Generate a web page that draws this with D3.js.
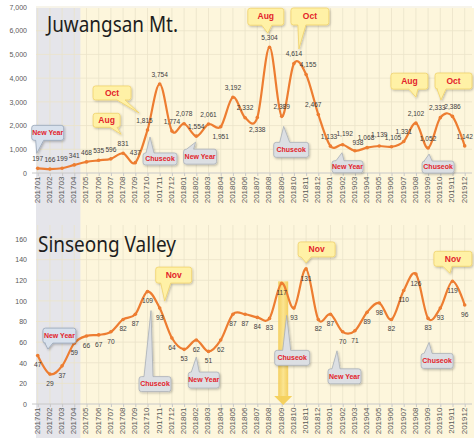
<!DOCTYPE html>
<html>
<head>
<meta charset="utf-8">
<script src="https://cdn.jsdelivr.net/npm/d3@7"></script>
<style>
  body { margin: 0; background: #fff; }
  svg { display: block; }
</style>
</head>
<body>
<svg id="chart" width="474" height="438"></svg>
<script>
// Monthly visitors, Jan 2017 – Dec 2019
const months = [
  "201701","201702","201703","201704","201705","201706","201707","201708","201709","201710","201711","201712",
  "201801","201802","201803","201804","201805","201806","201807","201808","201809","201810","201811","201812",
  "201901","201902","201903","201904","201905","201906","201907","201908","201909","201910","201911","201912"
];
const juwangsanVisitors = [
  197, 166, 199, 341, 468, 535, 596, 831, 437, 1815, 3754, 1774,
  2078, 1554, 2061, 1951, 3192, 2332, 2338, 5304, 2389, 4614, 4155, 2467,
  1133, 1192, 938, 1068, 1139, 1105, 1331, 2102, 1052, 2333, 2386, 1142
];
const sinseongVisitors = [
  47, 29, 37, 59, 66, 67, 70, 82, 87, 109, 93, 64,
  53, 62, 51, 62, 87, 87, 84, 83, 117, 93, 131, 82,
  87, 70, 71, 89, 98, 82, 110, 126, 83, 93, 119, 96
];
const juwangsanTicks = [0, 1000, 2000, 3000, 4000, 5000, 6000, 7000];
const sinseongTicks = [0, 20, 40, 60, 80, 100, 120, 140, 160];

// Event call-outs: text, month pointed at, box kind
const juwangsanNotes = [
  { text: "New Year", month: "201701", kind: "blue" },
  { text: "Aug", month: "201708", kind: "yellow" },
  { text: "Oct", month: "201710", kind: "yellow" },
  { text: "Chuseok", month: "201710", kind: "grey" },
  { text: "New Year", month: "201802", kind: "grey" },
  { text: "Aug", month: "201808", kind: "yellow" },
  { text: "Oct", month: "201810", kind: "yellow" },
  { text: "Chuseok", month: "201809", kind: "grey" },
  { text: "New Year", month: "201902", kind: "grey" },
  { text: "Aug", month: "201908", kind: "yellow" },
  { text: "Oct", month: "201910", kind: "yellow" },
  { text: "Chuseok", month: "201909", kind: "grey" }
];
const sinseongNotes = [
  { text: "New Year", month: "201702", kind: "blue" },
  { text: "Nov", month: "201711", kind: "yellow" },
  { text: "Chuseok", month: "201710", kind: "grey" },
  { text: "New Year", month: "201802", kind: "grey" },
  { text: "Nov", month: "201811", kind: "yellow" },
  { text: "Chuseok", month: "201809", kind: "grey" },
  { text: "New Year", month: "201902", kind: "grey" },
  { text: "Chuseok", month: "201909", kind: "grey" },
  { text: "Nov", month: "201911", kind: "yellow" }
];
const highlightMonth = "201809";

// ---- layout of call-outs (pixel offsets from the pointed data point) ----
// tip: [dx, dy] from the point; box: [dx, dy, w, h] from the tip; side of tail; tail base [l, r] from tip x
const juwangsanNoteLayout = [
  { tip: [-1, -15], box: [-5, -28, 32, 15], side: "bottom", base: [-1, 7] },
  { tip: [-2, -19], box: [-28, -21, 27, 14], side: "bottom", base: [-11, -4] },
  { tip: [-8.5, -17], box: [-46, -27, 38, 14], side: "bottom", base: [-22, -14] },
  { tip: [2.5, 7], box: [-7, 16, 34, 12], side: "top", base: [-4, 4] },
  { tip: [-0.7, 6], box: [-12, 7, 33, 15], side: "top", base: [-9, -2] },
  { tip: [-1.7, -14], box: [-20, -25, 36, 17], side: "bottom", base: [-6, 4] },
  { tip: [5, -14.6], box: [-8, -41, 38, 17], side: "bottom", base: [-1, 7] },
  { tip: [2, 10], box: [-10, 16, 35, 15], side: "top", base: [-4, 6] },
  { tip: [-0.7, 8], box: [-10, 8, 31, 12], side: "top", base: [-6, 2] },
  { tip: [0, -26], box: [-25, -24, 37, 16], side: "bottom", base: [-7, 2] },
  { tip: [0.7, -17.7], box: [-6, -27, 37, 16], side: "bottom", base: [-4, 5] },
  { tip: [1, 6], box: [-7, 7, 32, 12], side: "top", base: [-5, 3] }
];
const sinseongNoteLayout = [
  { tip: [-2, -25], box: [-5, -21, 33, 15], side: "bottom", base: [-3, 5] },
  { tip: [5, -7], box: [-9, -34, 36, 16], side: "bottom", base: [-4, 6] },
  { tip: [3.5, 19], box: [-12, 66, 32, 15], side: "top", base: [-7, 2] },
  { tip: [0, 17], box: [-8, 15, 31, 16], side: "top", base: [-5, 3] },
  { tip: [0, -6], box: [-8, -21, 37, 15], side: "bottom", base: [-5, 5] },
  { tip: [5, 32], box: [-12, 35, 35, 15], side: "top", base: [-4, 4] },
  { tip: [-5.7, 19], box: [-9, 18, 33, 15], side: "top", base: [-5, 3] },
  { tip: [1, 24], box: [-8, 11, 32, 15], side: "top", base: [-5, 3] },
  { tip: [-2.6, -8], box: [-16, -22, 38, 15], side: "bottom", base: [-7, 2] }
];
// value-label offsets [dx, dy] that differ from the default
const juwangsanLabelShift = { "201710": [-3, 0], "201804": [0, 20], "201807": [0, 22],
  "201811": [2, 0], "201812": [-5, 0], "201901": [-1.5, 0], "201902": [2, -1], "201903": [3, 1],
  "201904": [-1, 0], "201905": [0, -2], "201906": [1.5, 0], "201910": [-3, 0] };

const svg = d3.select("#chart");
const COLORS = {
  line: "#ed7d31",
  cream: "#fdf6dc",
  band: "#e5e5ea",
  grid: "#ebe3c9",
  axis: "#c8c8c8",
  tick: "#595959",
  value: "#404040"
};
const NOTE_STYLE = {
  yellow: { fill: "#fff1a6", stroke: "#f0d26a", size: 8.5 },
  grey:   { fill: "#dcdfe3", stroke: "#aab0b8", size: 7 },
  blue:   { fill: "#d8e1ed", stroke: "#97a5b8", size: 7 }
};

const defs = svg.append("defs");
defs.append("filter").attr("id", "shadow").attr("x", "-20%").attr("y", "-20%")
  .attr("width", "150%").attr("height", "160%")
  .append("feDropShadow").attr("dx", 1).attr("dy", 1.2).attr("stdDeviation", 0.8)
  .attr("flood-color", "#000").attr("flood-opacity", 0.25);
const grad = defs.append("linearGradient").attr("id", "beam").attr("x1", 0).attr("x2", 1).attr("y1", 0).attr("y2", 0);
grad.append("stop").attr("offset", "0%").attr("stop-color", "#f2c94c").attr("stop-opacity", 0.85);
grad.append("stop").attr("offset", "50%").attr("stop-color", "#fbe38a").attr("stop-opacity", 0.9);
grad.append("stop").attr("offset", "100%").attr("stop-color", "#f2c94c").attr("stop-opacity", 0.85);

const x = d3.scalePoint().domain(months).range([37.7, 464.7]).padding(0);
const plotLeft = 36, plotRight = 474;

// Page background: cream plot area with a grey band over Jan–Apr 2017
svg.append("rect").attr("x", plotLeft).attr("y", 8).attr("width", plotRight - plotLeft)
  .attr("height", 430).attr("fill", COLORS.cream);
svg.append("rect").attr("x", plotLeft).attr("y", 8)
  .attr("width", (x("201704") + x("201705")) / 2 - plotLeft)
  .attr("height", 430).attr("fill", COLORS.band);

function calloutPath(x0, y0, w, h, side, b1, b2, tx, ty) {
  const r = 2.5, x1 = x0 + w, y1 = y0 + h;
  let p = `M${x0 + r},${y0}`;
  if (side === "top") p += `L${b1},${y0}L${tx},${ty}L${b2},${y0}`;
  p += `L${x1 - r},${y0}Q${x1},${y0} ${x1},${y0 + r}L${x1},${y1 - r}Q${x1},${y1} ${x1 - r},${y1}`;
  if (side === "bottom") p += `L${b2},${y1}L${tx},${ty}L${b1},${y1}`;
  p += `L${x0 + r},${y1}Q${x0},${y1} ${x0},${y1 - r}L${x0},${y0 + r}Q${x0},${y0} ${x0 + r},${y0}Z`;
  return p;
}

function drawPanel(cfg) {
  const g = svg.append("g");
  const y = d3.scaleLinear().domain([0, cfg.ticks[cfg.ticks.length - 1]]).range([cfg.y0, cfg.y1]);

  // horizontal grid
  g.selectAll("line.hgrid").data(cfg.ticks.filter(t => t > 0)).join("line")
    .attr("x1", plotLeft).attr("x2", plotRight - 2)
    .attr("y1", d => y(d)).attr("y2", d => y(d))
    .attr("stroke", COLORS.grid).attr("stroke-width", 0.8);
  // vertical grid per month
  g.selectAll("line.vgrid").data(months).join("line")
    .attr("x1", d => x(d)).attr("x2", d => x(d))
    .attr("y1", cfg.gridTop).attr("y2", y(0))
    .attr("stroke", COLORS.grid).attr("stroke-width", 0.8);

  // y axis labels
  const yAxis = d3.axisLeft(y).tickValues(cfg.ticks).tickSize(0).tickPadding(0)
    .tickFormat(d3.format(","));
  const ya = g.append("g").attr("transform", "translate(27,0)").call(yAxis);
  ya.select(".domain").remove();
  ya.selectAll("text").attr("font-family", "Liberation Sans, Arial, sans-serif")
    .attr("font-size", 7).attr("fill", COLORS.tick);

  // x axis
  const xAxis = d3.axisBottom(x).tickSize(3).tickPadding(2);
  const xa = g.append("g").attr("transform", `translate(0,${y(0)})`).call(xAxis);
  xa.select(".domain").attr("d", `M${plotLeft - 4},0H${plotRight - 2}`).attr("stroke", COLORS.axis);
  xa.selectAll(".tick line").attr("stroke", COLORS.axis);
  xa.selectAll("text")
    .attr("font-family", "Liberation Sans, Arial, sans-serif").attr("font-size", 8)
    .attr("fill", COLORS.tick)
    .attr("transform", "rotate(-90)")
    .attr("text-anchor", "end").attr("dx", "-0.45em").attr("dy", "-0.1em")
    .attr("x", 0).attr("y", 0)
    .attr("dominant-baseline", "middle");

  // title
  g.append("text").attr("x", cfg.titleX).attr("y", cfg.titleY).text(cfg.title)
    .attr("font-family", "Noto Sans, sans-serif").attr("font-size", 21)
    .attr("textLength", cfg.titleWidth).attr("lengthAdjust", "spacingAndGlyphs")
    .attr("fill", "#1e1e1e");

  // highlighted month beam
  if (cfg.beam) {
    const i = months.indexOf(cfg.beam);
    const bx = x(cfg.beam) + 1.5, byTop = y(cfg.values[i]) - 2, byBot = y(0);
    g.append("rect").attr("x", bx - 5).attr("y", byTop).attr("width", 10)
      .attr("height", byBot - 8 - byTop).attr("fill", "url(#beam)");
    g.append("path")
      .attr("d", `M${bx - 9},${byBot - 8}L${bx + 9},${byBot - 8}L${bx},${byBot + 1}Z`)
      .attr("fill", "#f4cd50").attr("opacity", 0.9);
  }

  // line
  const pts = months.map((m, i) => [x(m), y(cfg.values[i])]);
  g.append("path").datum(pts)
    .attr("d", d3.line().curve(d3.curveCardinal.tension(0)))
    .attr("fill", "none").attr("stroke", COLORS.line).attr("stroke-width", 2.2)
    .attr("stroke-linejoin", "round");
  g.selectAll("circle.pt").data(pts).join("circle")
    .attr("cx", d => d[0]).attr("cy", d => d[1]).attr("r", 1.8)
    .attr("fill", COLORS.line);

  // value labels
  g.selectAll("text.val").data(months).join("text")
    .attr("x", (m) => x(m) + ((cfg.shift[m] || [0, 0])[0]))
    .attr("y", (m, i) => y(cfg.values[i]) + cfg.labelDy + ((cfg.shift[m] || [0, 0])[1]))
    .attr("text-anchor", "middle").attr("dominant-baseline", "middle")
    .attr("font-family", "Liberation Sans, Arial, sans-serif").attr("font-size", 6.6)
    .attr("fill", COLORS.value)
    .text((m, i) => d3.format(",")(cfg.values[i]));

  // call-outs
  cfg.notes.forEach((n, k) => {
    const L = cfg.layout[k];
    const i = months.indexOf(n.month);
    const tx = x(n.month) + L.tip[0], ty = y(cfg.values[i]) + L.tip[1];
    const bx0 = tx + L.box[0], by0 = ty + L.box[1], w = L.box[2], h = L.box[3];
    const st = NOTE_STYLE[n.kind];
    g.append("path")
      .attr("d", calloutPath(bx0, by0, w, h, L.side, tx + L.base[0], tx + L.base[1], tx, ty))
      .attr("fill", st.fill).attr("stroke", st.stroke).attr("stroke-width", 0.8)
      .attr("filter", "url(#shadow)");
    g.append("text").attr("x", bx0 + w / 2).attr("y", by0 + h / 2 + 0.5)
      .attr("text-anchor", "middle").attr("dominant-baseline", "middle")
      .attr("font-family", "Liberation Sans, Arial, sans-serif").attr("font-weight", "bold")
      .attr("font-size", st.size).attr("fill", "#e3232b")
      .text(n.text);
  });
}

drawPanel({
  title: "Juwangsan Mt.", titleX: 47, titleY: 32, titleWidth: 131,
  values: juwangsanVisitors, ticks: juwangsanTicks,
  y0: 173, y1: 7, gridTop: 8, labelDy: -9, shift: juwangsanLabelShift,
  notes: juwangsanNotes, layout: juwangsanNoteLayout
});
drawPanel({
  title: "Sinseong Valley", titleX: 38, titleY: 252, titleWidth: 138,
  values: sinseongVisitors, ticks: sinseongTicks,
  y0: 404, y1: 239, gridTop: 225, labelDy: 10, shift: {},
  notes: sinseongNotes, layout: sinseongNoteLayout, beam: highlightMonth
});
</script>
</body>
</html>
